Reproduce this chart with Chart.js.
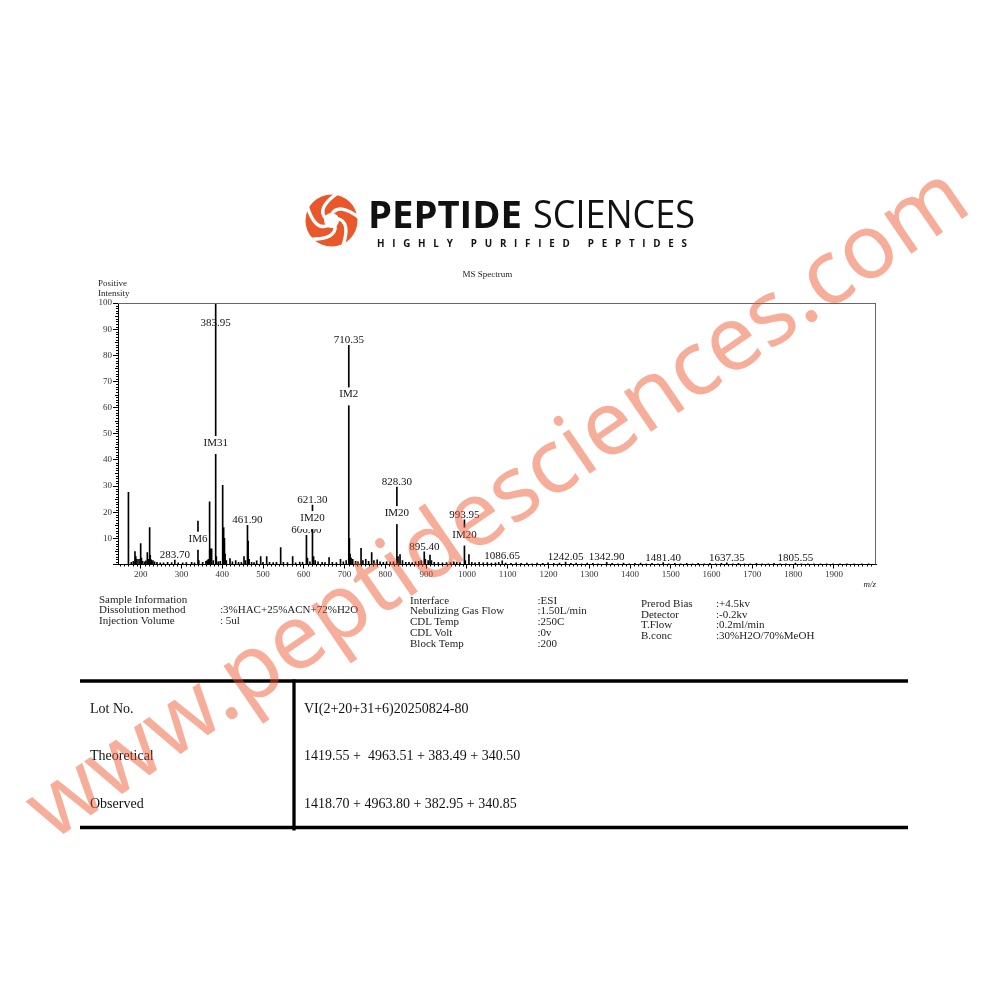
<!DOCTYPE html>
<html>
<head>
<meta charset="utf-8">
<script src="https://cdn.jsdelivr.net/npm/chart.js@4.4.1/dist/chart.umd.min.js"></script>
<style>
html,body{margin:0;padding:0;background:#fff;}
#wrap{position:relative;width:1000px;height:1000px;overflow:hidden;background:#fff;}
#c{position:absolute;left:0;top:0;}
svg{position:absolute;left:0;top:0;}
.serif{font-family:'Liberation Serif','Times New Roman',serif;}
</style>
</head>
<body>
<div id="wrap">
<canvas id="c" width="1000" height="1000"></canvas>
<svg id="ov" width="1000" height="1000" xmlns="http://www.w3.org/2000/svg">
  <!-- logo -->
  <g id="logoIcon"></g>
  <text x="368" y="228" font-family="Open Sans" font-weight="700" font-size="38" textLength="154" lengthAdjust="spacingAndGlyphs" fill="#111">PEPTIDE</text>
  <text x="533" y="228" font-family="Open Sans" font-weight="400" font-size="38" textLength="162" lengthAdjust="spacingAndGlyphs" fill="#111">SCIENCES</text>
  <text x="377" y="246.5" font-family="Open Sans" font-weight="700" font-size="9.8" textLength="310" lengthAdjust="spacing" fill="#111">HIGHLY PURIFIED PEPTIDES</text>

  <!-- chart captions -->
  <g class="serif" fill="#222">
    <text x="487.5" y="277" font-size="9" text-anchor="middle">MS Spectrum</text>
    <text x="98" y="285.5" font-size="9">Positive</text>
    <text x="98" y="296" font-size="9">Intensity</text>
    <text x="876" y="587" font-size="9" font-style="italic" text-anchor="end">m/z</text>
  </g>

  <!-- sample information -->
  <g class="serif" font-size="11" fill="#222" style="white-space:pre">
    <text x="99" y="602.5">Sample Information</text>
    <text x="99" y="613.3">Dissolution method</text>
    <text x="99" y="624">Injection Volume</text>
    <text x="220" y="613.3">:3%HAC+25%ACN+72%H2O</text>
    <text x="220" y="624">: 5ul</text>

    <text x="410" y="603.5">Interface</text>
    <text x="410" y="614.3">Nebulizing Gas Flow</text>
    <text x="410" y="625.1">CDL Temp</text>
    <text x="410" y="635.9">CDL Volt</text>
    <text x="410" y="646.7">Block Temp</text>
    <text x="537.5" y="603.5">:ESI</text>
    <text x="537.5" y="614.3">:1.50L/min</text>
    <text x="537.5" y="625.1">:250C</text>
    <text x="537.5" y="635.9">:0v</text>
    <text x="537.5" y="646.7">:200</text>

    <text x="641" y="606.8">Prerod Bias</text>
    <text x="641" y="617.5">Detector</text>
    <text x="641" y="628.2">T.Flow</text>
    <text x="641" y="638.9">B.conc</text>
    <text x="716" y="606.8">:+4.5kv</text>
    <text x="716" y="617.5">:-0.2kv</text>
    <text x="716" y="628.2">:0.2ml/min</text>
    <text x="716" y="638.9">:30%H2O/70%MeOH</text>
  </g>

  <!-- table -->
  <line x1="80" y1="681" x2="908" y2="681" stroke="#000" stroke-width="3.3"/>
  <line x1="80" y1="827.5" x2="908" y2="827.5" stroke="#000" stroke-width="3.3"/>
  <line x1="294" y1="679.5" x2="294" y2="830.5" stroke="#000" stroke-width="3.3"/>
  <g class="serif" font-size="14" fill="#111" style="white-space:pre">
    <text x="90" y="712.5">Lot No.</text>
    <text x="90" y="760">Theoretical</text>
    <text x="90" y="807.5">Observed</text>
    <text x="304" y="712.5">VI(2+20+31+6)20250824-80</text>
    <text x="304" y="760" xml:space="preserve">1419.55 +  4963.51 + 383.49 + 340.50</text>
    <text x="304" y="807.5">1418.70 + 4963.80 + 382.95 + 340.85</text>
  </g>
</svg>
<svg id="wm" width="1000" height="1000" xmlns="http://www.w3.org/2000/svg" style="pointer-events:none">
  <text x="52" y="842" transform="rotate(-34.4 52 842)" font-family="Noto Sans" font-size="90" textLength="1118" lengthAdjust="spacing" fill="rgb(236,85,45)" fill-opacity="0.48">www.peptidesciences.com</text>
</svg>
</div>
<script>
// ---------------- DATA ----------------
const peakMz = [170.0,177,182,186.0,188.0,191.0,196.0,200.0,202.0,205.0,210.0,213,216.3,219.0,222.0,223.5,226.0,230.0,234.0,240.0,248.0,
256.0,266.0,276.0,283.7,292.0,303.0,312.0,325.0,332.0,340.5,342.5,352.0,360.0,363.0,366.0,369.0,371.0,374.0,378.0,383.95,385.5,390.0,395.0,
401.1,403.5,405.5,407.0,410.0,419.0,425.0,433.0,440.0,447.0,453.4,457.0,461.9,463.5,466.0,472.0,478.0,484.5,494.3,500.0,509.0,516.0,525.0,533.0,
543.3,550.0,560.0,572.7,580.0,590.0,597.0,606.5,609.0,615.0,621.3,624.0,628.0,635.0,645.0,652.0,662.0,670.0,680.0,690.0,697.0,704.0,
710.35,711.8,713.5,716.0,720.0,727.0,733.0,740.4,745.0,752.0,759.0,766.5,772.0,780.0,787.0,795.0,803.0,812.0,820.0,828.3,831.0,836.0,842.0,
850.0,858.0,866.0,874.0,882.0,888.0,895.4,898.0,905.0,909.5,913.0,920.0,930.0,940.0,950.0,960.0,968.0,975.0,983.0,993.95,996.0,1005.0,
1012.0,1020.0,1030.0,1040.0,1050.0,1060.0,1070.0,1078.0,1086.65,1095,1108,1121,1133,1147,1160,1172,1186,1199,1213,1227,1242.05,1255,1268,
1281,1295,1309,1322,1342.9,1356,1370,1384,1398,1412,1426,1440,1454,1468,1481.4,1495,1510,1524,1539,1553,1567,1582,1596,1610,1624,1637.35,
1652,1666,1681,1695,1710,1724,1739,1753,1768,1782,1805.55,1820,1836,1851,1867,1882,1898,1915,1932,1950,1968,1985];
const peakIntensity = [27.6,0.8,1.2,4.9,3.0,2.0,2.0,8.0,2.5,1.2,1.0,1.4,4.6,2.0,14.1,3.5,1.8,1.5,1.0,0.8,0.6,
0.6,0.8,0.7,1.7,0.6,0.6,0.7,0.8,0.6,16.6,1.5,0.8,1.2,1.5,2.0,24.0,6.0,6.0,1.5,100,3.0,1.0,1.2,
30.3,14.1,10.0,4.0,1.5,2.3,1.0,1.5,0.8,0.8,3.0,1.5,15.0,9.0,2.0,0.8,0.7,1.4,3.0,0.8,3.0,0.8,0.7,0.8,
6.5,0.8,0.7,3.0,0.6,0.9,0.8,11.2,2.5,1.0,22.7,3.0,1.5,1.0,0.8,0.7,2.6,0.8,0.7,2.0,1.0,1.5,
83.8,10.0,4.0,2.5,2.0,1.2,1.0,6.2,1.5,2.0,1.2,4.6,1.5,1.8,1.0,0.8,1.0,0.9,1.0,29.6,3.0,3.8,1.5,
0.8,0.8,0.7,1.0,1.2,1.5,4.8,2.0,1.5,3.6,1.5,0.8,0.7,0.6,0.7,0.8,1.0,0.8,0.7,17.1,1.5,3.8,
0.8,0.6,0.8,0.6,0.7,0.5,0.6,0.8,1.4,0.5,0.4,0.6,0.4,0.5,0.3,0.5,0.4,0.6,0.4,0.5,0.9,0.4,0.5,
0.3,0.5,0.4,0.3,0.8,0.4,0.3,0.5,0.3,0.4,0.5,0.3,0.4,0.3,0.7,0.3,0.4,0.3,0.4,0.3,0.4,0.3,0.4,0.3,0.4,0.6,
0.3,0.4,0.3,0.3,0.4,0.3,0.3,0.4,0.3,0.3,0.5,0.3,0.3,0.3,0.3,0.3,0.3,0.3,0.3,0.3,0.3,0.3];

// peak annotations: m/z of labelled peak, its value label, its ion label and the level of the ion label
const labelMz    = [283.7, 340.5, 383.95, 461.9, 606.5, 621.3, 710.35, 828.3, 895.4, 993.95, 1086.65, 1242.05, 1342.9, 1481.4, 1637.35, 1805.55];
const labelText  = ['283.70', '', '383.95', '461.90', '606.00', '621.30', '710.35', '828.30', '895.40', '993.95', '1086.65', '1242.05', '1342.90', '1481.40', '1637.35', '1805.55'];
const ionText    = ['', 'IM6', 'IM31', '', '', 'IM20', 'IM2', 'IM20', '', 'IM20', '', '', '', '', '', ''];
const ionLevel   = [null, 8.7, 45.3, null, null, 16.6, 63.9, 18.5, null, 10.3, null, null, null, null, null, null];

const xTicks = [200,300,400,500,600,700,800,900,1000,1100,1200,1300,1400,1500,1600,1700,1800,1900];
const yTicks = [0,10,20,30,40,50,60,70,80,90,100];
const xRange = [144.4, 2003.2];

// ---------------- logo icon ----------------
(function(){
  const g = document.getElementById('logoIcon');
  const NS = 'http://www.w3.org/2000/svg';
  const cx = 331.5, cy = 220.5;
  const c = document.createElementNS(NS,'circle');
  c.setAttribute('cx',cx); c.setAttribute('cy',cy); c.setAttribute('r',26);
  c.setAttribute('fill','#e9572b'); g.appendChild(c);
  let d = '';
  const p = (r,a)=>[(cx+r*Math.cos(a)).toFixed(2),(cy+r*Math.sin(a)).toFixed(2)];
  for(let k=0;k<5;k++){
    const a = k*2*Math.PI/5 - Math.PI/2;
    const [x0,y0]=p(6,a), [x1,y1]=p(20,a+0.35), [x2,y2]=p(29,a+1.5);
    d += `M${x0},${y0} Q${x1},${y1} ${x2},${y2} `;
  }
  const path = document.createElementNS(NS,'path');
  path.setAttribute('d',d); path.setAttribute('stroke','#fff'); path.setAttribute('stroke-width','3.4');
  path.setAttribute('fill','none'); path.setAttribute('stroke-linecap','round'); g.appendChild(path);
  const ic = document.createElementNS(NS,'circle');
  ic.setAttribute('cx',cx); ic.setAttribute('cy',cy); ic.setAttribute('r',7.5);
  ic.setAttribute('fill','#fff'); g.appendChild(ic);
})();

// ---------------- chart ----------------
const SERIF = "'Liberation Serif', 'Times New Roman', serif";

const framePlugin = {
  id: 'frame',
  afterDraw(chart){
    const {ctx, chartArea:a, scales:{x,y}} = chart;
    ctx.save();
    ctx.strokeStyle = '#666'; ctx.lineWidth = 1;
    ctx.beginPath();
    ctx.moveTo(a.left, a.top+0.5); ctx.lineTo(a.right, a.top+0.5);
    ctx.moveTo(a.right-0.5, a.top); ctx.lineTo(a.right-0.5, a.bottom);
    ctx.stroke();
    ctx.strokeStyle = '#000';
    ctx.beginPath();
    for(let v=150; v<=2000; v+=10){
      if(v%100===0) continue;
      const px = Math.round(x.getPixelForValue(v))+0.5;
      ctx.moveTo(px, a.bottom); ctx.lineTo(px, a.bottom+2);
    }
    for(let v=1; v<100; v++){
      if(v%10===0) continue;
      const py = Math.round(y.getPixelForValue(v))+0.5;
      const len = (v%5===0)?3:2;
      ctx.moveTo(a.left, py); ctx.lineTo(a.left-len, py);
    }
    ctx.stroke();
    ctx.restore();
  }
};

const labelPlugin = {
  id: 'peakLabels',
  afterDatasetsDraw(chart){
    const {ctx, chartArea:a, scales:{x,y}} = chart;
    ctx.save();
    ctx.font = "11px " + SERIF;
    ctx.fillStyle = '#111';
    ctx.textAlign = 'center';
    ctx.textBaseline = 'alphabetic';
    labelMz.forEach((mz,i)=>{
      if(!labelText[i]) return;
      const idx = peakMz.indexOf(mz);
      const px = x.getPixelForValue(mz);
      const py = y.getPixelForValue(peakIntensity[idx]);
      let b = py - 2;
      if(b - 8 < a.top) b = a.top + 23;
      ctx.fillText(labelText[i], px, b);
    });
    labelMz.forEach((mz,i)=>{
      if(!ionText[i]) return;
      const px = x.getPixelForValue(mz);
      const b = y.getPixelForValue(ionLevel[i]);
      const w = ctx.measureText(ionText[i]).width;
      ctx.fillStyle = '#fff';
      ctx.fillRect(px - w/2 - 1, b - 10, w + 2, 18);
      ctx.fillStyle = '#111';
      ctx.fillText(ionText[i], px, b);
    });
    ctx.restore();
  }
};

new Chart(document.getElementById('c'), {
  type: 'bar',
  data: {
    datasets: [{
      data: peakMz.map((m,i)=>({x:m, y:peakIntensity[i]})),
      backgroundColor: '#000',
      borderWidth: 0,
      barThickness: 1,
      grouped: false
    }]
  },
  options: {
    responsive: false,
    animation: false,
    events: [],
    layout: { padding: { left: 88, top: 303, right: 124, bottom: 415.5 } },
    plugins: { legend: {display:false}, tooltip: {enabled:false}, title: {display:false} },
    scales: {
      x: {
        type: 'linear',
        offset: false,
        min: xRange[0], max: xRange[1],
        afterBuildTicks: (ax)=>{ ax.ticks = xTicks.map(v=>({value:v})); },
        afterFit: (ax)=>{ ax.height = 20; },
        grid: { display:true, drawOnChartArea:false, offset:false, tickLength:4, color:'#000', tickColor:'#000' },
        border: { display:true, color:'#000', width:1 },
        ticks: { font:{family:SERIF, size:9}, color:'#333', padding:1, maxRotation:0, autoSkip:false, callback:(v)=>String(v) }
      },
      y: {
        min: 0, max: 100,
        afterBuildTicks: (ax)=>{ ax.ticks = yTicks.map(v=>({value:v})); },
        afterFit: (ax)=>{ ax.width = 30; },
        grid: { display:true, drawOnChartArea:false, tickLength:5, color:'#000', tickColor:'#000' },
        border: { display:true, color:'#000', width:1 },
        ticks: { font:{family:SERIF, size:9}, color:'#333', padding:1, autoSkip:false, callback:(v)=> v===0 ? '' : String(v) }
      }
    }
  },
  plugins: [framePlugin, labelPlugin]
});
</script>
</body>
</html>
